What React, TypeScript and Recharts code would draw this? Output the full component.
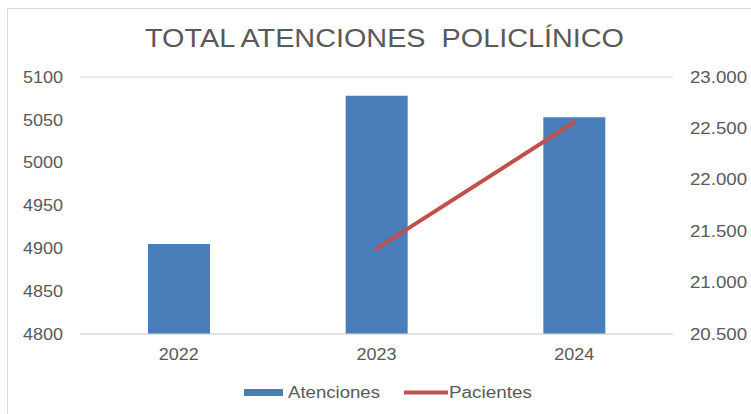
import React from 'react';
import {
  ComposedChart,
  Bar,
  Line,
  XAxis,
  YAxis,
  CartesianGrid,
  Legend
} from 'recharts';

const years = ['2022', '2023', '2024'];
const atenciones = [4905, 5078, 5053];
const pacientes: (number | null)[] = [null, 21330, 22560];
const leftTicks = [4800, 4850, 4900, 4950, 5000, 5050, 5100];
const rightTicks = [20500, 21000, 21500, 22000, 22500, 23000];

const chartData = years.map((year, i) => ({
  year,
  atenciones: atenciones[i],
  pacientes: pacientes[i]
}));

const FONT = '"Liberation Sans", Arial, sans-serif';
const TEXT = '#595959';
const GRID = '#d9d9d9';
const BLUE = '#4a7ebb';
const RED = '#c0504d';

const fmtMiles = (v: number) => v.toLocaleString('de-DE');

// the picture is a bit stretched sideways, so texts get a forced length
const LeftTick = (props: any) => {
  const { x, y, payload } = props;
  return (
    <text x={x} y={y} dy="0.355em" textAnchor="end" fill={TEXT} fontSize={16} fontFamily={FONT}
      textLength={40} lengthAdjust="spacingAndGlyphs">
      {payload.value}
    </text>
  );
};

const RightTick = (props: any) => {
  const { x, y, payload } = props;
  return (
    <text x={x} y={y} dy="0.355em" textAnchor="start" fill={TEXT} fontSize={16} fontFamily={FONT}
      textLength={57} lengthAdjust="spacingAndGlyphs">
      {fmtMiles(payload.value)}
    </text>
  );
};

const BottomTick = (props: any) => {
  const { x, y, payload } = props;
  return (
    <text x={x} y={y} dy="0.71em" textAnchor="middle" fill={TEXT} fontSize={16} fontFamily={FONT}
      textLength={40} lengthAdjust="spacingAndGlyphs">
      {payload.value}
    </text>
  );
};

const renderLegend = () => (
  <div style={{ display: 'flex', justifyContent: 'center', alignItems: 'center', height: 24, paddingLeft: 25 }}>
    <svg width={136} height={24}>
      <rect x={0} y={9} width={39} height={7} fill={BLUE} />
      <text x={44} y={12} dy="0.355em" fill={TEXT} fontSize={16} fontFamily={FONT}
        textLength={92} lengthAdjust="spacingAndGlyphs">Atenciones</text>
    </svg>
    <svg width={24} height={24} />
    <svg width={128} height={24}>
      <line x1={0} x2={44} y1={12.5} y2={12.5} stroke={RED} strokeWidth={4} />
      <text x={45} y={12} dy="0.355em" fill={TEXT} fontSize={16} fontFamily={FONT}
        textLength={83} lengthAdjust="spacingAndGlyphs">Pacientes</text>
    </svg>
  </div>
);

export default function App() {
  return (
    <div style={{ position: 'fixed', left: 0, top: 0, width: 751, height: 414, background: '#fff', overflow: 'hidden' }}>
      <div style={{
        position: 'absolute', left: 7, top: 8, width: 744, height: 406,
        borderLeft: `1px solid ${GRID}`, borderTop: `1px solid ${GRID}`, boxSizing: 'border-box'
      }} />
      <svg style={{ position: 'absolute', left: 0, top: 0 }} width={751} height={60}>
        <text x={384.5} y={47} textAnchor="middle" fill={TEXT} fontSize={26} fontFamily={FONT}
          textLength={479} lengthAdjust="spacingAndGlyphs" style={{ whiteSpace: 'pre' }}>
          TOTAL ATENCIONES  POLICLÍNICO
        </text>
      </svg>
      <div style={{ position: 'absolute', left: 0, top: 0 }}>
        <ComposedChart
          width={751}
          height={414}
          data={chartData}
          margin={{ top: 77, right: 0, left: 0, bottom: 10 }}
          barCategoryGap="34%"
        >
          <CartesianGrid horizontal vertical={false} stroke={GRID} strokeWidth={1} />
          <XAxis
            dataKey="year"
            axisLine={{ stroke: GRID, strokeWidth: 1 }}
            tickLine={false}
            tickSize={0}
            tickMargin={15}
            height={46}
            tick={<BottomTick />}
          />
          <YAxis
            yAxisId="left"
            orientation="left"
            domain={[4800, 5100]}
            ticks={leftTicks}
            allowDataOverflow
            axisLine={false}
            tickLine={false}
            tickSize={0}
            tickMargin={17}
            width={80}
            tick={<LeftTick />}
          />
          <YAxis
            yAxisId="right"
            orientation="right"
            domain={[20500, 23000]}
            ticks={rightTicks}
            allowDataOverflow
            axisLine={false}
            tickLine={false}
            tickSize={0}
            tickMargin={17}
            width={78}
            tick={<RightTick />}
          />
          <Legend verticalAlign="bottom" height={24} content={renderLegend} />
          <Bar
            yAxisId="left"
            dataKey="atenciones"
            name="Atenciones"
            fill={BLUE}
            barSize={62}
            isAnimationActive={false}
          />
          <Line
            yAxisId="right"
            dataKey="pacientes"
            name="Pacientes"
            type="linear"
            stroke={RED}
            strokeWidth={4}
            dot={false}
            activeDot={false}
            strokeLinecap="round"
            isAnimationActive={false}
          />
        </ComposedChart>
      </div>
    </div>
  );
}
